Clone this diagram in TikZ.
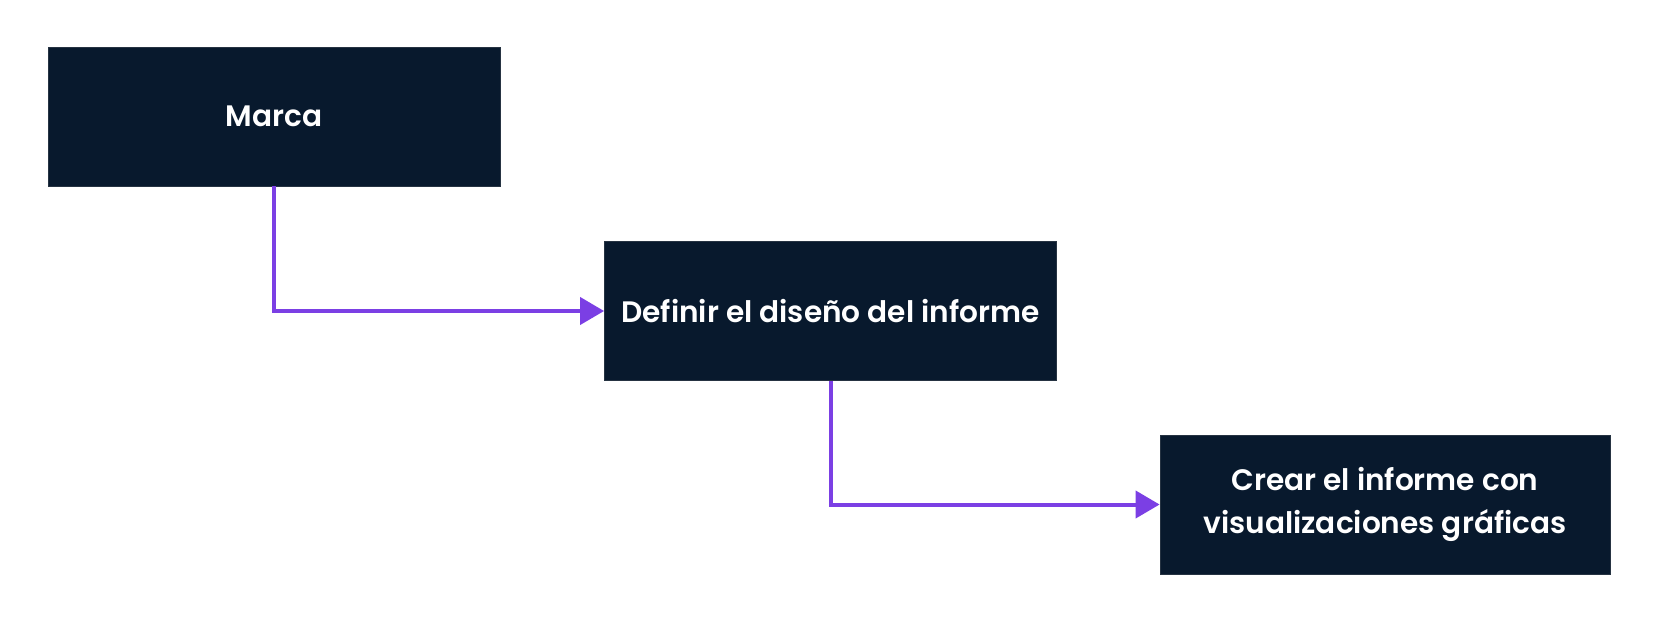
\documentclass[tikz,border=0pt]{standalone}
\usepackage{fontspec}
\setmainfont{Poppins}[BoldFont={Poppins SemiBold}]
\usetikzlibrary{arrows.meta}
\definecolor{navy}{HTML}{08192D}
\definecolor{purp}{HTML}{7B3FE4}
\begin{document}
\begin{tikzpicture}[x=1pt,y=-1pt]
\tikzset{
  box/.style={fill=navy, draw=navy!75!gray, line width=0.8pt, minimum width=452pt, minimum height=139pt, inner sep=0pt, text=white, font=\fontsize{29.6}{43}\selectfont\bfseries, align=center},
  conn/.style={draw=purp, line width=4pt, -{Triangle[length=24pt,width=27pt]}}
}
\fill[white] (0,0) rectangle (1656,624);
\useasboundingbox (0,0) rectangle (1656,624);
\node[box] (a) at (274,116.5) {Marca};
\node[box] (b) at (830.5,311) {Definir el diseño del informe};
\node[box, minimum width=450pt] (c) at (1385,504.5) {Crear el informe con\\visualizaciones gráficas};
\draw[conn] (a.south) |- (b.west);
\draw[conn] (b.south) |- (c.west);
\end{tikzpicture}
\end{document}
